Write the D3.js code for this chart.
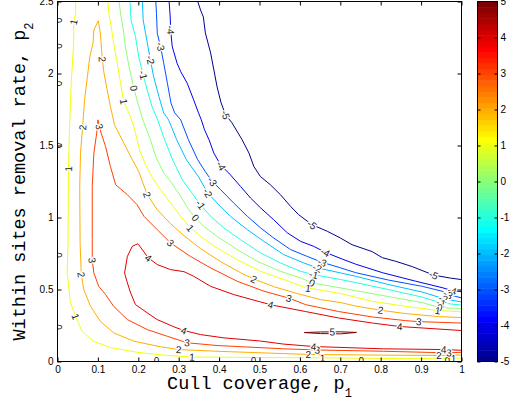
<!DOCTYPE html>
<html>
<head>
<meta charset="utf-8">
<script src="https://cdn.jsdelivr.net/npm/d3@7"></script>
<style>
  html, body { margin: 0; padding: 0; background: #fff; }
  svg { display: block; }
</style>
</head>
<body>
<svg id="chart" width="520" height="405"></svg>
<script>
// ---- contour levels and tick values ----
const levels  = [-5, -4, -3, -2, -1, 0, 1, 2, 3, 4, 5];
const xTicks  = [0, 0.1, 0.2, 0.3, 0.4, 0.5, 0.6, 0.7, 0.8, 0.9, 1];
const yTicks  = [0, 0.5, 1, 1.5, 2, 2.5];
const cbTicks = [-5, -4, -3, -2, -1, 0, 1, 2, 3, 4, 5];

// ---- contour lines, points as [p1, p2] ----
const cM5 = [[0.346,2.51],[0.354,2.441],[0.361,2.393],[0.366,2.282],[0.379,2.143],[0.387,2.025],[0.395,1.907],[0.405,1.796],[0.416,1.713],[0.432,1.657],[0.457,1.54],[0.474,1.447],[0.486,1.354],[0.502,1.285],[0.527,1.227],[0.552,1.158],[0.577,1.077],[0.597,1.019],[0.63,0.95],[0.668,0.904],[0.7,0.858],[0.729,0.811],[0.779,0.763],[0.804,0.721],[0.837,0.696],[0.878,0.659],[0.931,0.6],[0.973,0.579],[1,0.569]];
const cM4 = [[0.276,2.51],[0.279,2.393],[0.28,2.302],[0.284,2.187],[0.296,2.071],[0.305,2.013],[0.321,1.933],[0.337,1.817],[0.349,1.727],[0.356,1.678],[0.364,1.609],[0.375,1.54],[0.387,1.447],[0.405,1.359],[0.424,1.309],[0.453,1.216],[0.478,1.135],[0.503,1.066],[0.535,0.985],[0.569,0.893],[0.602,0.834],[0.634,0.8],[0.663,0.758],[0.705,0.711],[0.738,0.676],[0.804,0.617],[0.886,0.558],[0.952,0.513],[0.977,0.492],[1,0.485]];
const cM3 = [[0.243,2.51],[0.245,2.418],[0.247,2.279],[0.255,2.187],[0.263,2.071],[0.272,1.933],[0.281,1.794],[0.29,1.727],[0.305,1.678],[0.324,1.54],[0.347,1.401],[0.366,1.318],[0.383,1.25],[0.404,1.193],[0.436,1.101],[0.47,1.008],[0.503,0.927],[0.535,0.858],[0.577,0.777],[0.618,0.73],[0.655,0.689],[0.701,0.65],[0.738,0.617],[0.82,0.565],[0.903,0.522],[0.952,0.488],[0.967,0.465],[1,0.442]];
const cM2 = [[0.21,2.51],[0.212,2.372],[0.218,2.279],[0.224,2.187],[0.23,2.094],[0.238,1.978],[0.251,1.84],[0.263,1.725],[0.275,1.678],[0.295,1.54],[0.319,1.401],[0.349,1.283],[0.372,1.17],[0.395,1.101],[0.428,1.008],[0.47,0.915],[0.511,0.834],[0.56,0.742],[0.61,0.684],[0.643,0.65],[0.701,0.615],[0.738,0.592],[0.82,0.534],[0.903,0.482],[0.955,0.437],[1,0.413]];
const cM1 = [[0.179,2.51],[0.182,2.372],[0.193,2.256],[0.201,2.117],[0.212,1.99],[0.222,1.886],[0.234,1.77],[0.248,1.678],[0.265,1.54],[0.285,1.401],[0.309,1.262],[0.332,1.172],[0.354,1.089],[0.379,1.008],[0.412,0.927],[0.453,0.846],[0.503,0.754],[0.552,0.684],[0.602,0.626],[0.634,0.603],[0.701,0.569],[0.738,0.548],[0.82,0.499],[0.903,0.447],[0.951,0.406],[1,0.392]];
const c0a = [[0.152,2.51],[0.156,2.418],[0.163,2.302],[0.168,2.187],[0.177,2.048],[0.189,1.898],[0.199,1.794],[0.213,1.664],[0.23,1.54],[0.243,1.424],[0.263,1.309],[0.28,1.25],[0.305,1.146],[0.325,1.054],[0.342,0.997],[0.362,0.938],[0.395,0.869],[0.445,0.777],[0.494,0.696],[0.552,0.626],[0.602,0.58],[0.63,0.546],[0.701,0.511],[0.738,0.492],[0.819,0.451],[0.903,0.409],[0.946,0.374],[1,0.368]];
const c0edge = [[0,2.5],[0,0],[1,0]];
const c1a = [[0.1245,2.51],[0.127,2.418],[0.133,2.325],[0.139,2.21],[0.148,2.071],[0.156,1.933],[0.164,1.805],[0.177,1.725],[0.185,1.664],[0.193,1.588],[0.203,1.47],[0.218,1.366],[0.235,1.276],[0.255,1.193],[0.28,1.101],[0.305,1.008],[0.329,0.927],[0.354,0.869],[0.395,0.788],[0.445,0.707],[0.503,0.626],[0.56,0.569],[0.614,0.513],[0.701,0.472],[0.779,0.418],[0.861,0.383],[0.941,0.354],[1,0.345]];
const c1b = [[0.045,2.51],[0.045,2.42],[0.04,2.358],[0.04,2.212],[0.034,1.935],[0.03,1.644],[0.027,1.331],[0.026,0.811],[0.024,0.617],[0.032,0.409],[0.045,0.312],[0.061,0.208],[0.09,0.139],[0.131,0.097],[0.197,0.064],[0.272,0.042],[0.333,0.031],[0.478,0.028],[0.644,0.026],[0.807,0.021],[0.98,0.022],[1,0.024]];
const c2 = [[1,0.045],[0.943,0.042],[0.807,0.044],[0.621,0.049],[0.559,0.055],[0.395,0.071],[0.3,0.083],[0.255,0.102],[0.189,0.141],[0.139,0.199],[0.106,0.279],[0.082,0.383],[0.065,0.499],[0.059,0.603],[0.056,0.811],[0.055,1.216],[0.057,1.449],[0.062,1.623],[0.067,1.817],[0.074,1.978],[0.08,2.117],[0.088,2.212],[0.09,2.302],[0.101,2.367],[0.106,2.282],[0.111,2.099],[0.115,2.004],[0.123,1.886],[0.131,1.77],[0.141,1.644],[0.16,1.54],[0.181,1.424],[0.201,1.32],[0.222,1.158],[0.247,1.054],[0.28,0.957],[0.313,0.874],[0.354,0.784],[0.404,0.693],[0.453,0.617],[0.486,0.572],[0.535,0.52],[0.593,0.472],[0.651,0.43],[0.701,0.409],[0.738,0.385],[0.8,0.356],[0.861,0.333],[0.943,0.312],[1,0.305]];
const c3 = [[1,0.064],[0.968,0.06],[0.807,0.071],[0.643,0.08],[0.56,0.088],[0.395,0.111],[0.321,0.13],[0.272,0.175],[0.222,0.222],[0.173,0.291],[0.139,0.383],[0.119,0.465],[0.102,0.522],[0.09,0.615],[0.086,0.702],[0.086,0.846],[0.086,1.216],[0.09,1.447],[0.097,1.586],[0.1,1.678],[0.108,1.586],[0.119,1.493],[0.131,1.354],[0.144,1.227],[0.173,1.158],[0.197,1.089],[0.214,1.008],[0.247,0.915],[0.28,0.823],[0.329,0.73],[0.379,0.65],[0.445,0.557],[0.511,0.488],[0.573,0.44],[0.614,0.395],[0.696,0.347],[0.78,0.309],[0.861,0.284],[0.894,0.277],[1,0.267]];
const c4 = [[1,0.215],[0.847,0.243],[0.78,0.267],[0.696,0.302],[0.614,0.347],[0.531,0.392],[0.503,0.413],[0.436,0.465],[0.379,0.522],[0.337,0.592],[0.313,0.624],[0.28,0.638],[0.247,0.673],[0.225,0.719],[0.201,0.811],[0.199,0.818],[0.185,0.8],[0.173,0.73],[0.166,0.615],[0.173,0.546],[0.181,0.476],[0.193,0.395],[0.222,0.338],[0.247,0.291],[0.288,0.241],[0.313,0.215],[0.354,0.187],[0.412,0.164],[0.503,0.142],[0.559,0.121],[0.634,0.104],[0.807,0.088],[0.955,0.083],[1,0.078]];
const c5 = [[0.611,0.201],[0.651,0.205],[0.701,0.206],[0.74,0.202],[0.701,0.192],[0.651,0.194],[0.611,0.201]];

// inline contour labels: [level, p1, p2]
const labelPos = [
  [-5,0.416,1.713],[-5,0.63,0.95],[-5,0.931,0.6],
  [-4,0.28,2.302],[-4,0.405,1.359],[-4,0.663,0.758],[-4,0.977,0.492],
  [-3,0.255,2.187],[-3,0.383,1.25],[-3,0.655,0.689],[-3,0.967,0.465],
  [-2,0.23,2.094],[-2,0.372,1.17],[-2,0.643,0.65],[-2,0.955,0.437],
  [-1,0.212,1.99],[-1,0.354,1.089],[-1,0.634,0.603],[-1,0.95,0.406],
  [0,0.189,1.898],[0,0.342,0.997],[0,0.63,0.546],[0,0.946,0.374],
  [0,0,2.37],[0,0,2.19],[0,0,1.93],[0,0,1.5],[0,0,0.74],[0,0,0.24],
  [0,0.245,0],[0,0.485,0],[0,0.752,0],[0,0.965,0],
  [1,0.04,2.358],[1,0.026,1.338],[1,0.045,0.312],[1,0.333,0.031],[1,0.656,0.026],[1,0.98,0.022],
  [1,0.164,1.805],[1,0.329,0.927],[1,0.62,0.503],[1,0.941,0.354],
  [2,0.111,2.099],[2,0.061,1.625],[2,0.059,0.603],[2,0.3,0.083],[2,0.621,0.049],[2,0.944,0.042],
  [2,0.222,1.158],[2,0.486,0.572],[2,0.8,0.356],
  [3,0.104,1.632],[3,0.086,0.702],[3,0.321,0.13],[3,0.643,0.08],[3,0.969,0.06],
  [3,0.28,0.823],[3,0.573,0.44],[3,0.894,0.277],
  [4,0.225,0.719],[4,0.313,0.215],[4,0.634,0.104],[4,0.956,0.083],[4,0.527,0.392],[4,0.847,0.243],
  [5,0.68,0.201]
];

const contourLines = [
  {level: -5, pts: cM5}, {level: -4, pts: cM4}, {level: -3, pts: cM3},
  {level: -2, pts: cM2}, {level: -1, pts: cM1},
  {level: 0, pts: c0edge, edge: true}, {level: 0, pts: c0a},
  {level: 1, pts: c1a}, {level: 1, pts: c1b},
  {level: 2, pts: c2}, {level: 3, pts: c3}, {level: 4, pts: c4}, {level: 5, pts: c5}
];

// ---- 64-entry jet colormap ----
function jetEntry(k) { // k in 1..64
  const u = j => (j >= 1 && j <= 16) ? j / 16 : (j >= 17 && j <= 31) ? 1 : (j >= 32 && j <= 47) ? (48 - j) / 16 : 0;
  const c = [u(k - 24), u(k - 8), u(k + 8)].map(v => Math.round(v * 255));
  return `rgb(${c[0]},${c[1]},${c[2]})`;
}
const cmin = -5, cmax = 5;
const levelColor = v => jetEntry(Math.min(64, Math.floor((v - cmin) / (cmax - cmin) * 64 + 1e-9) + 1));

// ---- layout ----
const svg = d3.select("#chart");
const x = d3.scaleLinear().domain([0, 1]).range([57.5, 461.5]);
const y = d3.scaleLinear().domain([0, 2.5]).range([361.5, 1.5]);
const cb = d3.scaleLinear().domain([cmin, cmax]).range([361.5, 1.5]);
const cbX0 = 477.5, cbX1 = 497.5;

svg.append("rect").attr("width", 520).attr("height", 405).attr("fill", "#fff");

svg.append("defs").append("clipPath").attr("id", "plotClip")
  .append("rect").attr("x", x(0)).attr("y", y(2.5))
  .attr("width", x(1) - x(0)).attr("height", y(0) - y(2.5));

const plot = svg.append("g").attr("clip-path", "url(#plotClip)");
const line = d3.line().x(d => x(d[0])).y(d => y(d[1]));

plot.selectAll("path.contour").data(contourLines).join("path")
  .attr("class", "contour")
  .attr("d", d => line(d.pts))
  .attr("fill", "none")
  .attr("stroke", d => levelColor(d.level))
  .attr("stroke-width", 1)
  .attr("stroke-linejoin", "round");

// place each label on the nearest segment of its level and align it with that segment
function labelGeometry(lv, p1, p2) {
  const px = x(p1), py = y(p2);
  let best = null;
  contourLines.filter(c => c.level === lv).forEach(c => {
    for (let i = 0; i < c.pts.length - 1; i++) {
      const ax = x(c.pts[i][0]), ay = y(c.pts[i][1]);
      const bx = x(c.pts[i + 1][0]), by = y(c.pts[i + 1][1]);
      const dx = bx - ax, dy = by - ay, L2 = dx * dx + dy * dy;
      let t = L2 > 0 ? ((px - ax) * dx + (py - ay) * dy) / L2 : 0;
      t = Math.max(0, Math.min(1, t));
      const qx = ax + t * dx, qy = ay + t * dy;
      const dist = Math.hypot(px - qx, py - qy);
      if (!best || dist < best.dist) best = {dist, qx, qy, dx, dy, edge: !!c.edge};
    }
  });
  let ang = Math.atan2(best.dy, best.dx) * 180 / Math.PI;
  if (ang > 90) ang -= 180;
  if (ang <= -90) ang += 180;
  return {x: best.qx, y: best.qy, ang, edge: best.edge};
}

const labels = labelPos.map(([lv, p1, p2]) => Object.assign({lv}, labelGeometry(lv, p1, p2)));

plot.selectAll("text.clabel").data(labels).join("text")
  .attr("class", "clabel")
  .attr("transform", d => `translate(${d.x},${d.y}) rotate(${d.ang})`)
  .attr("text-anchor", "middle")
  .attr("dy", "0.36em")
  .attr("font-family", "Liberation Sans, Arial, sans-serif")
  .attr("font-size", 10)
  .attr("fill", "#222")
  .attr("stroke", d => d.edge ? "none" : "#fff")
  .attr("stroke-width", 2.5)
  .attr("stroke-linejoin", "round")
  .attr("paint-order", "stroke")
  .text(d => String(d.lv));

// ---- axes frame with inward ticks ----
const fmt = d => String(d);
const styleAxis = g => {
  g.select(".domain").remove();
  g.selectAll("text").attr("font-family", "Liberation Sans, Arial, sans-serif").attr("font-size", 10).attr("fill", "#000");
  g.selectAll("line").attr("stroke", "#000");
};
svg.append("g").attr("transform", `translate(0,${y(0)})`)
  .call(d3.axisBottom(x).tickValues(xTicks).tickFormat(fmt).tickSizeInner(-4).tickSizeOuter(0).tickPadding(4)).call(styleAxis);
svg.append("g").attr("transform", `translate(0,${y(2.5)})`)
  .call(d3.axisTop(x).tickValues(xTicks).tickFormat("").tickSizeInner(-4).tickSizeOuter(0)).call(styleAxis);
svg.append("g").attr("transform", `translate(${x(0)},0)`)
  .call(d3.axisLeft(y).tickValues(yTicks).tickFormat(fmt).tickSizeInner(-4).tickSizeOuter(0).tickPadding(4)).call(styleAxis);
svg.append("g").attr("transform", `translate(${x(1)},0)`)
  .call(d3.axisRight(y).tickValues(yTicks).tickFormat("").tickSizeInner(-4).tickSizeOuter(0)).call(styleAxis);
svg.append("rect").attr("x", x(0)).attr("y", y(2.5))
  .attr("width", x(1) - x(0)).attr("height", y(0) - y(2.5))
  .attr("fill", "none").attr("stroke", "#000").attr("stroke-width", 1);

// ---- axis titles ----
const xt = svg.append("text").attr("x", (x(0) + x(1)) / 2).attr("y", 388.5)
  .attr("text-anchor", "middle").attr("font-family", "Liberation Mono, Courier New, monospace")
  .attr("font-size", 18.5).attr("fill", "#000");
xt.append("tspan").text("Cull coverage, p");
xt.append("tspan").attr("font-size", 12).attr("dy", 8.5).text("1");

const yt = svg.append("text")
  .attr("transform", `translate(25,${(y(0) + y(2.5)) / 2}) rotate(-90)`)
  .attr("text-anchor", "middle").attr("font-family", "Liberation Mono, Courier New, monospace")
  .attr("font-size", 18.5).attr("fill", "#000");
yt.append("tspan").text("Within sites removal rate, p");
yt.append("tspan").attr("font-size", 12).attr("dy", 8).text("2");

// ---- colorbar ----
const nColors = 64;
const bands = d3.range(nColors).map(i => ({
  v0: cmin + i * (cmax - cmin) / nColors,
  v1: cmin + (i + 1) * (cmax - cmin) / nColors,
  color: jetEntry(i + 1)
}));
svg.append("g").selectAll("rect").data(bands).join("rect")
  .attr("x", cbX0).attr("width", cbX1 - cbX0)
  .attr("y", d => cb(d.v1)).attr("height", d => cb(d.v0) - cb(d.v1) + 0.5)
  .attr("fill", d => d.color);
svg.append("g").attr("transform", `translate(${cbX1},0)`)
  .call(d3.axisRight(cb).tickValues(cbTicks).tickFormat(fmt).tickSizeInner(-3).tickSizeOuter(0).tickPadding(3)).call(styleAxis);
svg.append("g").attr("transform", `translate(${cbX0},0)`)
  .call(d3.axisLeft(cb).tickValues(cbTicks).tickFormat("").tickSizeInner(-3).tickSizeOuter(0)).call(styleAxis);
svg.append("rect").attr("x", cbX0).attr("y", cb(cmax))
  .attr("width", cbX1 - cbX0).attr("height", cb(cmin) - cb(cmax))
  .attr("fill", "none").attr("stroke", "#000").attr("stroke-width", 1);
</script>
</body>
</html>
